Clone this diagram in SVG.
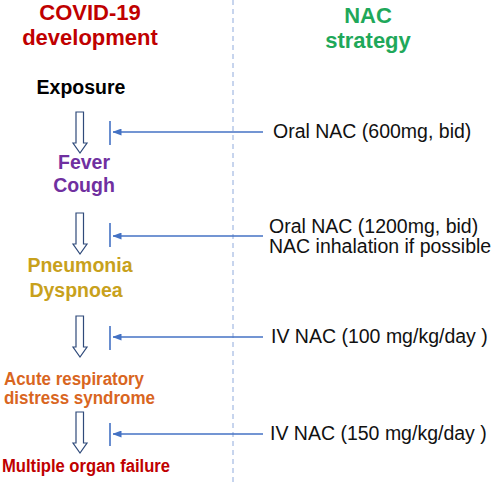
<svg xmlns="http://www.w3.org/2000/svg" width="500" height="482" viewBox="0 0 500 482">
<defs>
<style>
.t{font-family:"Liberation Sans",Arial,sans-serif;font-weight:bold;text-anchor:middle}
.h{font-size:22px}
.s{font-size:19.5px}
.c{font-size:18px;text-anchor:start}
.r{font-family:"Liberation Sans",Arial,sans-serif;font-size:19.5px;fill:#111}
.hollow{fill:#fff;stroke:#2f4a7a;stroke-width:1.2}
.inh{stroke:#4472c4;stroke-width:1.6;fill:none}
</style>
<marker id="ah" viewBox="0 0 9 7" refX="8.5" refY="3.5" markerWidth="9" markerHeight="7" markerUnits="userSpaceOnUse" orient="auto">
<path d="M0,0 L9,3.5 L0,7 Z" fill="#4472c4"/>
</marker>
<path id="harrow" d="M-4,0 H3.5 V31 H7 L0,41 L-7,31 H-4 Z"/>
</defs>
<rect width="500" height="482" fill="#fff"/>
<line x1="233" y1="0" x2="233" y2="482" stroke="#8faadc" stroke-width="1" stroke-dasharray="5,4"/>
<g id="header-left"><text class="t h" x="90" y="20" fill="#c00000">COVID-19</text><text class="t h" x="90" y="45" fill="#c00000">development</text></g>
<g id="header-right"><text class="t h" x="368" y="23" fill="#1fa85a">NAC</text><text class="t h" x="368" y="48" fill="#1fa85a">strategy</text></g>
<g id="exposure"><text class="t s" x="81" y="94" fill="#000">Exposure</text></g>
<g id="fever"><text class="t s" x="84" y="169" fill="#7030a0">Fever</text><text class="t s" x="84" y="192" fill="#7030a0">Cough</text></g>
<g id="pneumonia"><text class="t s" x="80" y="272" fill="#c8a11c">Pneumonia</text><text class="t s" x="76" y="297" fill="#c8a11c">Dyspnoea</text></g>
<g id="ards"><text class="t c" x="4" y="385" fill="#d9661f" textLength="140" lengthAdjust="spacingAndGlyphs">Acute respiratory</text><text class="t c" x="4" y="404" fill="#d9661f" textLength="151" lengthAdjust="spacingAndGlyphs">distress syndrome</text></g>
<g id="mof"><text class="t c" x="2" y="472" fill="#c00000" textLength="168" lengthAdjust="spacingAndGlyphs">Multiple organ failure</text></g>
<g id="nac1"><text class="r" x="273" y="138">Oral NAC (600mg, bid)</text></g>
<g id="nac2"><text class="r" x="269" y="233">Oral NAC (1200mg, bid)</text><text class="r" x="269" y="253">NAC inhalation if possible</text></g>
<g id="nac3"><text class="r" x="271" y="343">IV NAC (100 mg/kg/day )</text></g>
<g id="nac4"><text class="r" x="270" y="440">IV NAC (150 mg/kg/day )</text></g>
<g id="connectors">
<use href="#harrow" x="80" y="112" class="hollow"/>
<use href="#harrow" x="80" y="213" class="hollow"/>
<use href="#harrow" x="80" y="316" class="hollow"/>
<use href="#harrow" x="80" y="412" class="hollow"/>
<line class="inh" x1="110" y1="121" x2="110" y2="145"/>
<line class="inh" x1="263" y1="132" x2="113" y2="132" marker-end="url(#ah)"/>
<line class="inh" x1="110" y1="223" x2="110" y2="247"/>
<line class="inh" x1="263" y1="236" x2="113" y2="236" marker-end="url(#ah)"/>
<line class="inh" x1="110" y1="326" x2="110" y2="350"/>
<line class="inh" x1="263" y1="337" x2="113" y2="337" marker-end="url(#ah)"/>
<line class="inh" x1="110" y1="423" x2="110" y2="446"/>
<line class="inh" x1="263" y1="434" x2="113" y2="434" marker-end="url(#ah)"/>
</g>
</svg>
